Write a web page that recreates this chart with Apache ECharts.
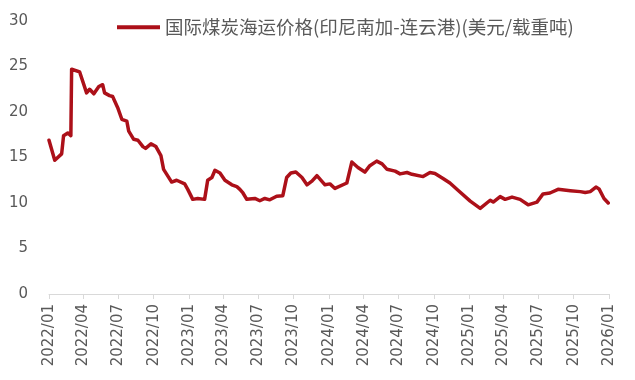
<!DOCTYPE html>
<html>
<head>
<meta charset="utf-8">
<script src="https://cdn.jsdelivr.net/npm/echarts@6/dist/echarts.min.js"></script>
<style>
html,body{margin:0;padding:0;background:#fff;}
#c{width:635px;height:380px;}
</style>
</head>
<body>
<div id="c"></div>
<script>
const seriesName = '国际煤炭海运价格(印尼南加-连云港)(美元/载重吨)';
const dates = [
'2022-01-01','2022-01-16','2022-02-03','2022-02-08','2022-02-19','2022-02-27','2022-03-01','2022-03-22',
'2022-04-09','2022-04-17','2022-04-28','2022-05-11','2022-05-21','2022-05-26','2022-06-08','2022-06-16',
'2022-06-29','2022-07-10','2022-07-23','2022-07-28','2022-08-10','2022-08-21','2022-09-03','2022-09-10',
'2022-09-24','2022-10-07','2022-10-20','2022-10-27','2022-11-17','2022-11-30','2022-12-21','2022-12-29',
'2023-01-11','2023-01-24','2023-02-11','2023-02-19','2023-03-02','2023-03-10','2023-03-23','2023-04-05',
'2023-04-23','2023-05-06','2023-05-14','2023-05-22','2023-06-01','2023-06-22','2023-07-05','2023-07-18',
'2023-07-31','2023-08-18','2023-09-03','2023-09-13','2023-09-24','2023-10-07','2023-10-23','2023-11-05',
'2023-11-18','2023-12-01','2023-12-22','2024-01-04','2024-01-17','2024-02-17','2024-03-01','2024-03-17',
'2024-04-04','2024-04-17','2024-05-05','2024-05-19','2024-06-01','2024-06-22','2024-07-05','2024-07-23',
'2024-08-05','2024-09-03','2024-09-21','2024-10-04','2024-10-25','2024-11-12','2024-12-03','2025-01-04',
'2025-01-30','2025-02-25','2025-03-05','2025-03-23','2025-04-05','2025-04-23','2025-05-14','2025-06-04',
'2025-06-27','2025-07-13','2025-07-31','2025-08-21','2025-09-22','2025-10-18','2025-10-31','2025-11-13',
'2025-11-28','2025-12-06','2025-12-19','2025-12-30'
];
const values = [
16.9,14.7,15.4,17.4,17.7,17.4,24.7,24.4,
22.1,22.5,22.0,22.8,23.0,22.1,21.8,21.7,
20.5,19.2,19.0,17.9,17.0,16.9,16.2,16.0,
16.5,16.2,15.2,13.7,12.3,12.5,12.1,11.5,
10.4,10.5,10.4,12.5,12.8,13.6,13.3,12.5,
12.0,11.8,11.5,11.1,10.4,10.5,10.25,10.5,
10.35,10.75,10.8,12.8,13.3,13.4,12.8,12.0,
12.4,13.0,12.0,12.1,11.6,12.2,14.5,13.9,
13.4,14.1,14.6,14.3,13.7,13.5,13.2,13.35,
13.15,12.9,13.35,13.25,12.7,12.2,11.4,10.2,
9.4,10.3,10.1,10.7,10.4,10.65,10.4,9.8,
10.1,11.0,11.1,11.5,11.35,11.25,11.15,11.25,
11.75,11.55,10.5,10.0
];
const tickLabels = ['2022/01','2022/04','2022/07','2022/10','2023/01','2023/04','2023/07','2023/10',
'2024/01','2024/04','2024/07','2024/10','2025/01','2025/04','2025/07','2025/10','2026/01'];
const yTicks = [0,5,10,15,20,25,30];

const DAY = 86400000;
const base = Date.UTC(2022,0,1);
function dayIndex(s){
  const p = s.split(/[-\/]/).map(Number);
  return (Date.UTC(p[0], p[1]-1, p[2]||1) - base)/DAY;
}
const tickPos = tickLabels.map(dayIndex);
const labelMap = {};
tickPos.forEach((d,i)=>{labelMap[d]=tickLabels[i];});
const data = dates.map((d,i)=>[dayIndex(d), values[i]]);

const txt = '#595959';
const chart = echarts.init(document.getElementById('c'), null, {renderer:'canvas'});
chart.setOption({
  animation:false,
  textStyle:{fontFamily:'"Noto Sans CJK SC", "DejaVu Sans", sans-serif'},
  grid:{left:49,right:26,top:21,bottom:86,containLabel:false},
  legend:{
    data:[seriesName],
    left:117, top:18, padding:0,
    itemWidth:43, itemHeight:4, itemGap:5,
    icon:'rect',
    textStyle:{color:txt,fontSize:18.5,fontFamily:'"Noto Sans CJK SC", sans-serif'}
  },
  xAxis:{
    type:'value',
    min:tickPos[0], max:tickPos[tickPos.length-1],
    splitLine:{show:false},
    axisLine:{show:true,lineStyle:{color:'#D9D9D9',width:1}},
    axisTick:{show:true,length:5,lineStyle:{color:'#D9D9D9'},customValues:tickPos},
    axisLabel:{
      rotate:90, margin:10, color:txt, fontSize:15,
      fontFamily:'"DejaVu Sans", sans-serif',
      customValues:tickPos,
      formatter:(v)=>labelMap[Math.round(v)]||''
    }
  },
  yAxis:{
    type:'value', min:yTicks[0], max:yTicks[yTicks.length-1], interval:5,
    splitLine:{show:false},
    axisLine:{show:false},
    axisTick:{show:false},
    axisLabel:{color:txt,fontSize:15,margin:21,fontFamily:'"DejaVu Sans", sans-serif'}
  },
  series:[{
    name:seriesName,
    type:'line',
    data:data,
    showSymbol:false,
    symbol:'none',
    lineStyle:{color:'#AC1019',width:3.5,join:'round',cap:'round'},
    itemStyle:{color:'#AC1019'}
  }]
});
</script>
</body>
</html>
